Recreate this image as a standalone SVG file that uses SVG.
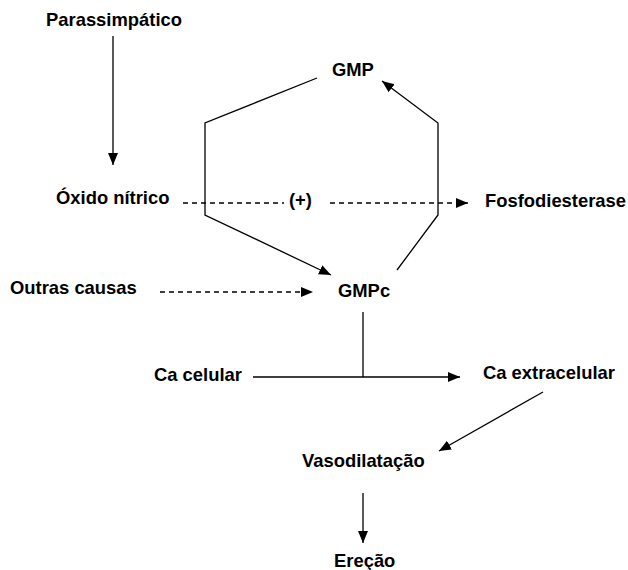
<svg xmlns="http://www.w3.org/2000/svg" width="628" height="570" viewBox="0 0 628 570">
<style>
text{font-family:"Liberation Sans",Arial,sans-serif;font-weight:bold;font-size:18.4px;fill:#000}
.c{fill:none;stroke:#000;stroke-width:1.3}
.d{stroke-dasharray:5 4}
</style>
<defs>
<marker id="ah" markerUnits="userSpaceOnUse" markerWidth="13" markerHeight="11" refX="12" refY="5" orient="auto">
<path d="M0,0 L12,5 L0,10 z" fill="#000"/>
</marker>
</defs>
<rect width="628" height="570" fill="#fff"/>
<g id="connectors">
<line class="c" x1="113" y1="36" x2="113" y2="165" marker-end="url(#ah)"/>
<line class="c d" x1="183" y1="203" x2="284" y2="203"/>
<line class="c d" x1="330" y1="203" x2="468" y2="203" marker-end="url(#ah)"/>
<polyline class="c" points="317,78 205,123 205,215 331,275" marker-end="url(#ah)"/>
<polyline class="c" points="397,270 438,215 438,123 382,81" marker-end="url(#ah)"/>
<line class="c d" x1="160" y1="292" x2="313" y2="292" marker-end="url(#ah)"/>
<line class="c" x1="363" y1="312" x2="363" y2="377"/>
<line class="c" x1="253" y1="377" x2="460" y2="377" marker-end="url(#ah)"/>
<line class="c" x1="543" y1="392" x2="439" y2="451" marker-end="url(#ah)"/>
<line class="c" x1="363" y1="493" x2="363" y2="543" marker-end="url(#ah)"/>
</g>
<g id="parassimpatico"><text x="46" y="26">Parassimpático</text></g>
<g id="gmp"><text x="332" y="76">GMP</text></g>
<g id="oxido"><text x="56" y="204">Óxido nítrico</text></g>
<g id="plus"><text x="289" y="206">(+)</text></g>
<g id="fosfodiesterase"><text x="485" y="207">Fosfodiesterase</text></g>
<g id="outras"><text x="10" y="294">Outras causas</text></g>
<g id="gmpc"><text x="338" y="297">GMPc</text></g>
<g id="cacelular"><text x="154" y="381">Ca celular</text></g>
<g id="caextra"><text x="483" y="379">Ca extracelular</text></g>
<g id="vaso"><text x="302" y="467">Vasodilatação</text></g>
<g id="erecao"><text x="334" y="567">Ereção</text></g>
</svg>
